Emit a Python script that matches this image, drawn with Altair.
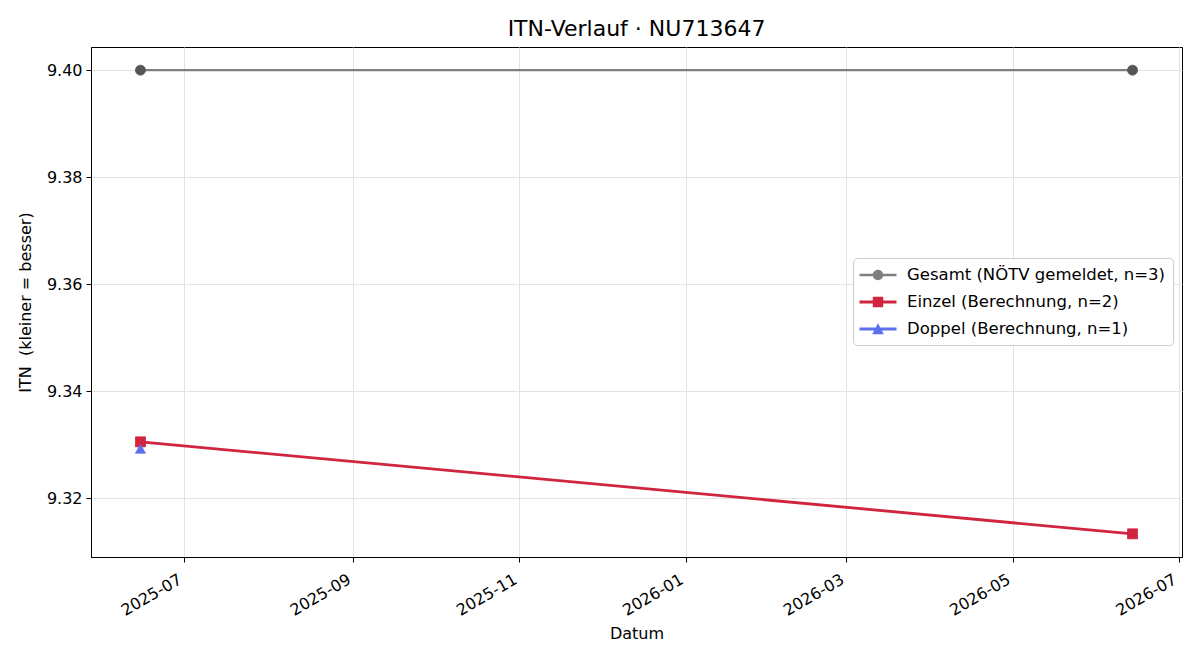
import altair as alt
import pandas as pd

# --- series definitions -------------------------------------------------
series_names = [
    "Gesamt (NÖTV gemeldet, n=3)",
    "Einzel (Berechnung, n=2)",
    "Doppel (Berechnung, n=1)",
]
line_colors = ["#7f7f7f", "#d0243f", "#5b70f0"]
marker_colors = ["#555555", "#d0243f", "#5b70f0"]
marker_shapes = ["circle", "square", "triangle-up"]
line_widths = [2.4, 2.8, 2.8]

gesamt_dates = ["2025-06-15", "2026-06-14"]
gesamt_itn = [9.40, 9.40]

einzel_dates = ["2025-06-15", "2026-06-14"]
einzel_itn = [9.3305, 9.3133]

doppel_dates = ["2025-06-15"]
doppel_itn = [9.3292]

y_ticks = [9.32, 9.34, 9.36, 9.38, 9.40]
x_tick_months = [(2025, 7), (2025, 9), (2025, 11), (2026, 1), (2026, 3), (2026, 5), (2026, 7)]

rows = []
for name, dates, vals in zip(series_names,
                             [gesamt_dates, einzel_dates, doppel_dates],
                             [gesamt_itn, einzel_itn, doppel_itn]):
    for d, v in zip(dates, vals):
        rows.append({"series": name, "datum": d + "T00:00:00", "itn": v})
df = pd.DataFrame(rows)

FONT = "DejaVu Sans"

x_enc = alt.X(
    "datum:T",
    title="Datum",
    scale=alt.Scale(
        domain=[
            alt.DateTime(year=2025, month=5, date=27, hours=20, minutes=24),
            alt.DateTime(year=2026, month=7, date=2, hours=3, minutes=36),
        ],
        nice=False,
    ),
    axis=alt.Axis(
        values=[alt.DateTime(year=y, month=m, date=1) for y, m in x_tick_months],
        format="%Y-%m",
        labelAngle=-30,
        labelAlign="right",
        labelBaseline="top",
        labelPadding=9,
        labelOffset=-8,
        titlePadding=7,
    ),
)
y_enc = alt.Y(
    "itn:Q",
    title="ITN\u00a0 (kleiner = besser)",
    scale=alt.Scale(domain=[9.30897, 9.40433], nice=False, zero=False),
    axis=alt.Axis(values=y_ticks, format=".2f", labelPadding=4, titlePadding=13),
)

color_scale = alt.Scale(domain=series_names, range=line_colors)

# legend handles: a line segment with the series marker on top
legend_paths = [
    "M-1.85,-0.12L1.85,-0.12L1.85,0.12L-1.85,0.12Z"
    "M-0.52,0A0.52,0.52 0 1,1 0.52,0A0.52,0.52 0 1,1 -0.52,0Z",
    "M-1.85,-0.15L1.85,-0.15L1.85,0.15L-1.85,0.15Z"
    "M-0.52,-0.52L0.52,-0.52L0.52,0.52L-0.52,0.52Z",
    "M-1.85,-0.15L1.85,-0.15L1.85,0.15L-1.85,0.15Z"
    "M0,-0.58L0.58,0.52L-0.58,0.52Z",
]

legend_def = alt.Legend(
    title=None,
    orient="none",
    legendX=762,
    legendY=211,
    labelFont=FONT,
    labelFontSize=16.5,
    labelColor="black",
    labelLimit=500,
    symbolSize=400,
    symbolStrokeWidth=0,
    symbolOpacity=1,
    labelOffset=19,
    symbolOffset=8,
    rowPadding=8,
    padding=7,
    fillColor="white",
    strokeColor="#cccccc",
    cornerRadius=4,
)

base = alt.Chart(df)


def series_line(i):
    return base.transform_filter(alt.datum.series == series_names[i]).mark_line(
        color=line_colors[i], strokeWidth=line_widths[i],
    ).encode(x=x_enc, y=y_enc)


def series_markers(i):
    c = marker_colors[i]
    return base.transform_filter(alt.datum.series == series_names[i]).mark_point(
        shape=marker_shapes[i], filled=True, opacity=1, size=100, color=c,
        stroke=c, strokeWidth=0.8,
    ).encode(x=x_enc, y=y_enc)


layers = []
for i in range(len(series_names)):
    layers.append(series_line(i))
    layers.append(series_markers(i))

# invisible points that carry the combined colour/shape legend
legend_layer = base.mark_point(filled=True, opacity=0).encode(
    x=x_enc, y=y_enc,
    color=alt.Color("series:N", scale=color_scale, legend=legend_def),
    shape=alt.Shape("series:N", scale=alt.Scale(domain=series_names, range=legend_paths),
                    legend=legend_def),
)
layers.append(legend_layer)

chart = alt.layer(*layers).properties(
    width=1091,
    height=510,
    background="white",
    title=alt.TitleParams(
        "ITN-Verlauf · NU713647", font=FONT, fontSize=22, fontWeight="normal",
        color="black", anchor="middle", offset=6,
    ),
    autosize=alt.AutoSizeParams(type="none"),
    padding={"left": 91, "top": 47, "right": 18, "bottom": 103},
).configure_view(
    stroke="black", strokeWidth=1,
).configure_axis(
    labelFont=FONT, titleFont=FONT, labelFontSize=16, titleFontSize=16,
    labelColor="black", titleColor="black", titleFontWeight="normal",
    domainColor="black", tickColor="black", tickSize=5, tickWidth=1,
    gridColor="#e3e3e3", gridWidth=1,
)

chart.save("out.html", embed_options={"renderer": "svg", "actions": False})
